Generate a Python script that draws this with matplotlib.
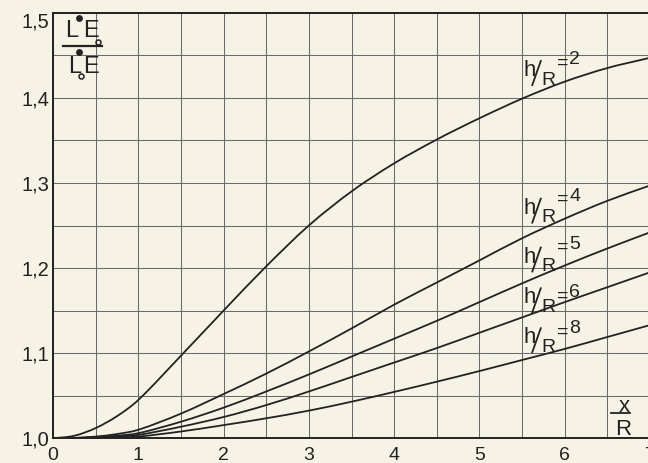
import numpy as np
import matplotlib
matplotlib.use("Agg")
import matplotlib.pyplot as plt
from matplotlib import font_manager
from matplotlib.path import Path
from matplotlib.patches import PathPatch
from matplotlib.transforms import Affine2D, ScaledTranslation

# Relative illuminance ratio versus distance x/R, for several heights h/R
x_over_r = [0, 0.25, 0.5, 0.75, 1, 1.5, 2, 2.5, 3, 3.5, 4, 4.5, 5, 5.5, 6, 6.5, 7]
ratio_h2 = [1.0, 1.003, 1.012, 1.026, 1.045, 1.097, 1.150, 1.202, 1.250, 1.290,
            1.323, 1.351, 1.376, 1.399, 1.419, 1.435, 1.447]
ratio_h4 = [1.0, 1.0005, 1.002, 1.005, 1.010, 1.029, 1.052, 1.076, 1.102, 1.129,
            1.157, 1.183, 1.209, 1.235, 1.258, 1.279, 1.297]
ratio_h5 = [1.0, 1.0003, 1.0015, 1.003, 1.006, 1.0195, 1.036, 1.055, 1.075, 1.096,
            1.117, 1.138, 1.160, 1.182, 1.203, 1.223, 1.242]
ratio_h6 = [1.0, 1.0002, 1.001, 1.002, 1.004, 1.0136, 1.025, 1.039, 1.055, 1.072,
            1.089, 1.106, 1.124, 1.142, 1.160, 1.1775, 1.195]
ratio_h8 = [1.0, 1.0001, 1.0005, 1.001, 1.002, 1.008, 1.0155, 1.0235, 1.0325, 1.043,
            1.0545, 1.0665, 1.079, 1.092, 1.105, 1.119, 1.133]
h_over_r = [2, 4, 5, 6, 8]

x_ticks = [0, 1, 2, 3, 4, 5, 6, 7]
x_tick_labels = ["0", "1", "2", "3", "4", "5", "6", "7"]
y_ticks = [1.0, 1.1, 1.2, 1.3, 1.4, 1.5]
y_tick_labels = ["1,0", "1,1", "1,2", "1,3", "1,4", "1,5"]

available = {f.name for f in font_manager.fontManager.ttflist}
FONT = next((f for f in ["Liberation Sans Narrow", "DejaVu Sans Condensed", "Liberation Sans"]
             if f in available), "DejaVu Sans")

PAPER = "#f6f3e6"
INK = "#222222"
GRID = "#6a6a6a"

fig = plt.figure(figsize=(6.48, 4.63), dpi=100, facecolor=PAPER)
ax = fig.add_axes([53 / 648, (463 - 438.3) / 463, 597 / 648, 425.6 / 463])
ax.set_facecolor(PAPER)
ax.set_xlim(0, 7)
ax.set_ylim(1.0, 1.5)

ax.set_xticks(x_ticks)
ax.set_xticklabels(x_tick_labels)
ax.set_yticks(y_ticks)
ax.set_yticklabels(y_tick_labels)
ax.set_xticks(np.arange(0, 7.01, 0.5), minor=True)
ax.set_yticks(np.arange(1.0, 1.501, 0.05), minor=True)
ax.grid(True, which="both", color=GRID, linewidth=0.75)
ax.set_axisbelow(True)
ax.tick_params(which="both", length=0)
ax.tick_params(axis="x", pad=6, labelsize=14, labelcolor=INK)
ax.tick_params(axis="y", pad=2.5, labelsize=14.5, labelcolor=INK)
for lab in ax.get_xticklabels() + ax.get_yticklabels():
    lab.set_family(FONT)
# the top value sits just under the upper frame line
ax.get_yticklabels()[-1].set_va("top")
for side in ("left", "bottom", "top", "right"):
    ax.spines[side].set_linewidth(1.4)
    ax.spines[side].set_color(INK)


def smooth_path(xs, ys):
    """Cubic Bezier path through the points, with finite-difference tangents."""
    xs = np.asarray(xs, float)
    ys = np.asarray(ys, float)
    n = len(xs)
    slope = np.empty(n)
    slope[0] = (ys[1] - ys[0]) / (xs[1] - xs[0])
    slope[-1] = (ys[-1] - ys[-2]) / (xs[-1] - xs[-2])
    slope[1:-1] = (ys[2:] - ys[:-2]) / (xs[2:] - xs[:-2])
    verts = [(xs[0], ys[0])]
    codes = [Path.MOVETO]
    for i in range(n - 1):
        h = xs[i + 1] - xs[i]
        verts += [(xs[i] + h / 3, ys[i] + slope[i] * h / 3),
                  (xs[i + 1] - h / 3, ys[i + 1] - slope[i + 1] * h / 3),
                  (xs[i + 1], ys[i + 1])]
        codes += [Path.CURVE4] * 3
    return Path(verts, codes)


series = [ratio_h2, ratio_h4, ratio_h5, ratio_h6, ratio_h8]
for ys in series:
    ax.add_patch(PathPatch(smooth_path(x_over_r, ys), fill=False, edgecolor=INK,
                           linewidth=1.3, capstyle="round", zorder=3))


def px_frame(x, y):
    """Transform whose units are pixels (at 100 dpi), origin at data point (x, y)."""
    return Affine2D().scale(0.01) + fig.dpi_scale_trans + ScaledTranslation(x, y, ax.transData)


def put(tr, dx, dy, s, size, ha="left"):
    ax.text(dx, dy, s, transform=tr, fontsize=size, family=FONT, color=INK,
            ha=ha, va="baseline", clip_on=False, zorder=5)


def dot(tr, dx, dy, filled):
    ax.plot([dx], [dy], marker="o", markersize=3.8 if filled else 3.6,
            markerfacecolor=INK if filled else "none", markeredgecolor=INK,
            markeredgewidth=1.1, transform=tr, clip_on=False, zorder=5)


# h/R labels beside each curve
label_anchor_x = 5.52
label_anchor_y = [1.4256, 1.2639, 1.2065, 1.1586, 1.1117]
label_raise = [12, 13, 14, 6, 10]
for h, ly, rise in zip(h_over_r, label_anchor_y, label_raise):
    tr = px_frame(label_anchor_x, ly)
    put(tr, 0, 0, "h", 16)
    ax.plot([8.5, 17], [-9, 15], transform=tr, color=INK, linewidth=1.3, clip_on=False, zorder=5)
    put(tr, 18, -8.5, "R", 14)
    put(tr, 33.5, rise - 3.5, "=", 14)
    put(tr, 45.5, rise, str(h), 14)

# quotient label in the upper-left corner
tr = px_frame(0, 1.5)
put(tr, 12, -24.2, "L", 17)
put(tr, 30, -24.2, "E", 17)
dot(tr, 26, -4.8, True)
dot(tr, 45.3, -29.2, False)
ax.plot([10, 49], [-33.3, -33.3], color=INK, linewidth=1.6, transform=tr, clip_on=False, zorder=5)
put(tr, 15, -60.5, "L", 17)
put(tr, 30, -60.5, "E", 17)
dot(tr, 26, -39.2, True)
dot(tr, 27.5, -63.6, False)

# x/R axis label near the lower right
tr = px_frame(6.5, 1.0)
put(tr, 16.5, 26.3, "x", 16, ha="center")
ax.plot([3.5, 22.5], [25, 25], color=INK, linewidth=1.3, transform=tr, clip_on=False, zorder=5)
put(tr, 16, 3.3, "R", 16, ha="center")

fig.savefig("out.png", dpi=100, facecolor=PAPER)
